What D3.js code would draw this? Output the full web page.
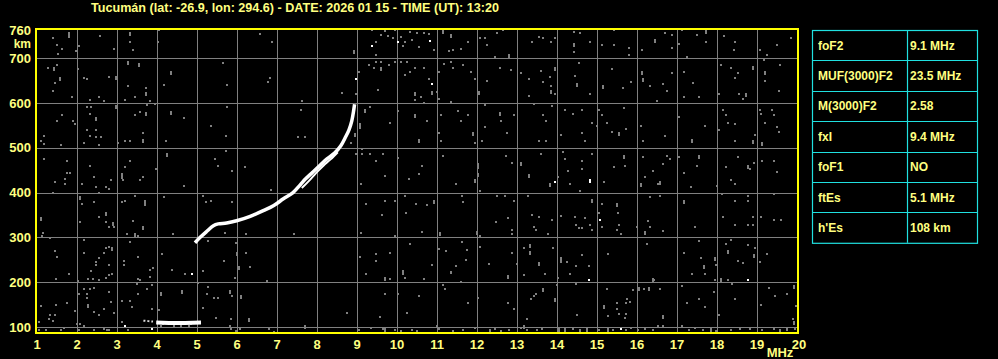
<!DOCTYPE html>
<html>
<head>
<meta charset="utf-8">
<script src="https://cdn.jsdelivr.net/npm/d3@7"></script>
<style>
  html, body { margin: 0; padding: 0; background: #000; }
  svg { display: block; }
</style>
</head>
<body>
<div id="chart"></div>
<script>
// ionogram: frequency (MHz) vs virtual height (km)
const title = "Tucumán (lat: -26.9, lon: 294.6) - DATE: 2026 01 15 - TIME (UT): 13:20";

const freqTicks = d3.range(1, 21);             // 1..20 MHz
const heightTicks = [100, 200, 300, 400, 500, 600, 700];

// scaled parameters table
const paramNames = ["foF2", "MUF(3000)F2", "M(3000)F2", "fxI", "foF1", "ftEs", "h'Es"];
const paramValues = ["9.1 MHz", "23.5 MHz", "2.58", "9.4 MHz", "NO", "5.1 MHz", "108 km"];

// O-mode F trace [MHz, km]
const traceF = [[4.95,288],[5.08,300],[5.24,313],[5.41,326],[5.53,330],[5.74,332],[5.99,337],
  [6.33,347],[6.67,360],[6.92,371],[7.16,386],[7.4,400],[7.59,418],[7.71,430],[7.89,445],
  [8.07,460],[8.25,475],[8.44,488],[8.6,505],[8.72,525],[8.8,540],[8.87,560],[8.92,585],[8.94,597]];
// split (second) echo along the upper F trace
const traceSplit = [[7.62,410],[7.8,426],[7.98,444],[8.16,460],[8.34,474],[8.52,490]];
// sporadic E trace
const traceEs = [[3.98,110],[4.3,109],[4.7,109],[5.1,110]];
const traceEsFaint = [[3.66,114],[3.78,113],[3.9,112]];

// background noise echoes [MHz, km, length km]
const noiseGray = [
  [1.81,755,13],[1.39,744],[1.51,730],[1.63,721],[1.53,709],[2.58,750],[2.06,727],[1.97,715],
  [3.33,755,9],[3.33,735],[3.39,718],[4.03,736],[4.06,762],[2.93,721],[6.58,753],[6.88,735],
  [8.92,715,9],[9.38,762],[9.47,736],[9.47,708],[9.59,751],[9.71,761],[9.77,750],[9.95,762],
  [9.89,744],[10.1,747],[10.14,727],[10.2,736],[10.32,759],[10.38,740],[10.5,757],[10.56,725],
  [10.68,757],[10.8,753],[10.93,718],[11.15,760,9],[11.35,751,9],[11.29,715],[11.41,718],
  [11.6,721],[11.78,735],[12.08,744],[12.2,744],[12.26,730],[12.5,757],[12.65,762],[12.81,706,9],
  [13.38,735],[13.54,747],[13.66,744],[13.84,735],[13.96,745],[14.43,759],[14.43,732,9],[14.43,714],
  [14.57,757],[14.82,735],[15.12,730],[15.42,762],[15.42,730],[15.79,723],[15.79,708],[16.13,718],
  [16.46,741,9],[16.7,757],[16.88,751],[16.88,723],[17.06,732],[17.12,762],[17.25,703],[17.49,751],
  [17.73,760,9],[17.73,735],[18.18,750],[18.46,736],[18.43,718],[19.07,718],[19.25,708],[19.49,730],
  [19.86,744],
  [1.27,678],[1.43,678,9],[1.51,684],[1.57,656,9],[1.45,645],[2.03,675],[2.18,656],[2.24,653],
  [3.27,692,9],[3.54,686,9],[2.97,658,9],[2.79,658],[3.27,638],[3.73,634],[4.18,640],[4.34,669,9],
  [5.64,688],[5.76,640],[6.82,656],[6.77,647],[9.04,669],[9.29,684],[9.43,677],[9.47,692],
  [9.59,678,9],[9.61,692],[9.81,684],[9.95,692],[10.1,692],[10.26,692],[10.32,669],[10.44,677],
  [10.2,662],[10.68,678],[10.8,654],[11.05,669],[11.17,686],[11.35,692],[11.41,678],[11.66,684],
  [11.84,669],[11.96,654],[12.26,648],[12.45,703],[12.57,678],[12.85,673],[13.11,666],[13.3,653],
  [13.6,671],[13.66,647],[13.82,658],[13.84,638],[13.96,677,9],[14.45,660],[14.55,688],[14.51,643,9],
  [15.16,638,9],[15.37,675],[15.64,634],[15.85,647],[16.13,669,9],[16.15,654,9],[16.33,638],
  [16.64,643],[16.88,666],[17.18,669],[17.39,645],[18.1,684],[18.34,677],[18.46,656],[18.52,666],
  [18.89,680,9],[19.17,695],[19.2,669,9],[19.2,648],[19.57,684],
  [1.39,626],[1.88,613],[2.32,607],[2.54,613],[2.67,604],[2.97,593,9],[3.21,607],[3.45,613],
  [3.73,622,9],[3.82,604],[3.76,596],[3.94,598],[2.24,591],[2.36,591],[2.32,576],[2.48,566,9],
  [1.63,572],[1.51,559],[1.91,559],[1.94,552],[2.24,540],[2.32,527],[2.48,540],[2.48,524],
  [2.18,511],[1.18,527],[1.11,514],[1.18,509],[1.6,505],[2.6,524],[2.54,505],[3.58,579],
  [3.45,572],[3.73,578,9],[3.64,533],[3.64,518,9],[3.33,514],[3.21,514],[3.03,511],[4.34,579,9],
  [4.67,566],[4.22,514],[5.34,549],[5.76,591],[5.73,527],[7.62,604],[7.59,585],[7.52,524],
  [7.71,524],[8.62,622],[8.98,619],[9.08,552,13],[9.2,585,9],[9.32,591],[8.96,531,9],[8.86,511],
  [9.13,497],[9.53,628],[9.83,555],[10.02,581],[10.44,622,9],[10.44,607],[10.44,574,9],[10.59,613],
  [10.68,600],[10.74,559],[10.56,518,9],[10.87,624,9],[10.99,624],[11.05,609],[11.11,572],
  [11.05,533],[11.11,514],[11.35,601],[11.53,581],[11.59,559],[11.78,574],[11.9,533,9],[11.96,511],
  [12.04,624,9],[12.2,596],[12.2,546],[12.12,514],[12.57,578,9],[12.6,559],[12.93,572],[12.75,533],
  [13.3,616],[13.42,598],[13.66,572],[13.72,559],[13.87,594],[13.84,626,9],[13.96,619],[13.54,514],
  [13.72,514],[14.09,529],[14.19,585],[14.39,576],[14.63,585],[14.82,619],[14.88,555],[15.0,548],
  [14.63,533],[14.69,514],[15.06,585],[15.12,572],[15.24,555],[15.37,536],[15.55,533,9],[15.67,589],
  [15.73,542],[16.09,549],[16.15,514],[16.49,604],[16.7,527],[16.76,626],[17.06,569],[17.18,613],
  [17.37,518,9],[17.55,613],[17.7,549],[18.04,621],[18.04,540],[18.16,585],[18.22,572],[18.28,555],
  [18.46,552],[18.46,514],[18.56,621],[18.73,619,9],[18.65,609],[18.89,514,9],[18.95,529],[19.07,585],
  [19.1,576],[19.2,555],[19.37,585],[19.43,574],[19.49,546],[19.55,626],[19.13,511,9],[19.55,536],
  [1.18,475],[1.75,471],[1.75,443],[1.82,443],[1.45,423],[1.69,430],[1.69,419],[2.32,460],
  [2.42,434],[2.12,419],[2.48,413],[2.73,412],[2.85,427],[2.81,408],[3.13,441,13],[3.21,456],
  [3.33,470],[3.15,427],[3.58,427],[3.64,434],[4.25,486,9],[3.98,453],[4.67,415],[5.46,475],
  [5.52,460],[5.73,492],[5.88,447],[6.19,456],[1.39,398],[2.08,389,9],[2.12,374],[2.42,378],
  [2.54,400],[3.13,378],[3.21,382],[3.45,393],[3.7,382,13],[4.18,391],[5.15,393],[5.22,378],
  [5.34,382],[5.88,378],[6.86,406],[8.98,485],[9.13,486],[9.32,486],[9.47,471],[9.65,486],
  [9.69,438],[9.1,419],[10.02,477],[10.3,430],[10.62,460],[10.56,441],[9.23,374],[9.69,382],
  [9.95,382],[10.2,393],[10.47,374],[10.74,373],[10.93,382,9],[11.15,482],[11.47,419],[11.63,393],
  [11.66,378],[12.02,464,13],[12.02,441,9],[11.96,427,9],[12.08,404],[12.5,393],[12.69,393],
  [12.72,482],[12.87,467],[13.09,467,9],[13.6,486],[13.3,440,9],[13.27,393],[12.93,382],
  [13.82,419,9],[14.02,434],[14.15,490],[14.21,475],[14.27,449],[14.33,419],[14.63,471],[14.63,453],
  [14.88,486],[14.88,383,9],[14.57,404],[15.12,374],[15.18,423],[15.42,456],[15.67,482,9],[15.7,460],
  [15.49,374,9],[16.09,419,9],[16.15,479],[16.21,434],[16.39,449],[16.52,419],[16.58,423,9],
  [16.64,464],[16.76,482],[16.82,475],[17.06,479],[17.18,443],[17.34,412],[17.55,482,9],[17.49,460],
  [16.58,393],[16.33,389],[17.18,380,9],[18.0,415],[18.22,456],[18.34,427],[18.46,419],[18.52,479],
  [18.77,460,9],[18.83,453],[18.92,467],[19.13,471],[19.43,471],[19.49,445],[18.12,397],[18.46,382],
  [18.77,393],[19.43,397],[18.77,382],
  [1.11,343,9],[1.15,309],[1.12,302],[1.33,298],[2.08,335],[2.18,294],[2.54,346],[2.73,354,9],
  [2.73,335],[2.79,324],[2.91,331,9],[2.93,322],[3.39,337],[3.45,307,9],[3.64,324,9],[3.52,302],
  [3.25,307],[4.39,307],[1.45,270],[1.51,257],[2.18,264],[2.73,277],[2.81,279],[2.88,277,9],
  [2.67,264],[2.54,255],[2.48,246],[2.48,238],[2.79,238],[3.18,247],[3.18,238],[3.33,289],
  [3.52,257],[3.82,227],[3.9,232],[2.36,225],[4.12,262],[4.37,227],[5.28,292],[5.16,225],
  [5.68,247],[5.7,309],[5.97,287],[6.0,264,9],[6.04,234,9],[6.22,307],[6.22,266],[6.33,234],
  [7.43,307],[9.11,309],[9.47,262],[9.08,257],[9.47,247],[9.62,350],[9.83,266],[9.96,304],
  [10.22,355],[10.14,225,9],[10.32,285],[10.62,311],[10.87,238],[11.07,309,9],[11.05,274],
  [11.23,270],[11.35,223],[11.47,237],[11.63,289],[11.75,272],[11.72,250],[11.99,311,9],[12.08,302],
  [12.08,279],[12.29,240],[12.48,335],[12.77,343],[12.87,316],[12.87,307],[12.87,266],[12.99,240],
  [13.17,276],[13.33,283,9],[13.33,268,9],[13.38,350],[13.42,324],[13.48,316],[13.54,346],
  [13.54,242,9],[13.78,307],[13.87,339],[13.9,276],[14.09,253,13],[14.09,348],[14.24,246],
  [14.45,346],[14.48,328],[14.55,320],[14.63,320],[14.69,343],[14.82,328],[14.88,316],[15.06,354],
  [15.12,324],[14.63,261],[14.48,235],[14.79,235],[15.28,262],[15.55,328],[15.52,354],[15.49,316],
  [15.61,307],[16.0,324],[16.21,313,9],[16.27,337],[16.33,322],[16.25,285],[16.64,314],[17.18,266],
  [17.46,324],[17.55,292],[17.61,253],[17.67,235,9],[17.98,238],[17.95,253,9],[18.16,346],
  [18.22,285],[18.28,270,9],[18.34,294],[18.46,328],[18.52,247],[18.65,242],[18.77,328],[18.77,283],
  [18.89,346],[18.89,328],[18.92,261,9],[18.95,276],[19.07,246],[19.1,346],[19.25,262],[19.43,339],
  [19.61,339],
  [1.47,206],[1.81,218],[2.03,203],[2.28,206],[2.4,206],[2.54,205],[2.73,210],[2.79,215],
  [2.88,218],[3.52,206],[3.58,205],[3.82,212],[3.88,193],[3.76,185],[3.49,195],[3.52,173],
  [3.33,158],[3.37,145],[3.13,158],[2.79,177],[2.85,156],[2.67,139],[2.93,132],[2.42,188],
  [2.32,185],[2.18,184],[2.24,173],[2.06,173],[2.28,150,9],[2.24,165],[2.42,133],[2.54,126],
  [1.47,148],[1.75,153],[1.94,136],[1.45,126],[1.33,126],[1.3,118],[1.39,113],[1.06,111],
  [1.11,147],[2.08,106],[1.23,94],[1.6,94],[2.42,94],[2.79,94],[4.1,175,9],[4.06,138],
  [3.88,141],[4.1,102],[4.63,180,9],[4.71,218],[5.03,199],[5.28,190],[5.24,173],[5.16,143],
  [5.43,165],[5.52,165],[5.48,121],[5.82,180,9],[5.88,169],[5.85,118],[5.95,210],[6.09,170,9],
  [6.07,96],[6.29,118,9],[6.74,203],[7.71,102,9],[8.74,131],[9.23,218],[9.71,210,9],[9.83,206],
  [9.69,173],[9.57,123],[10.02,173],[10.14,218],[10.2,210],[10.26,131],[10.56,168],[10.68,208],
  [11.15,193],[11.2,185],[11.35,220],[11.6,200],[11.78,153],[12.02,165],[12.77,214,9],[12.77,153],
  [12.93,139],[13.17,215],[13.24,117],[13.36,162],[13.42,168],[13.48,173],[13.66,184,9],[13.7,218],
  [13.94,162,9],[13.99,193],[14.03,210],[14.33,218],[14.48,195],[14.51,126],[15.18,147,9],
  [15.24,185],[15.28,124],[15.49,153],[15.49,139],[15.55,128],[15.73,153],[15.76,163],[15.82,156],
  [15.73,130],[15.7,121],[15.91,182],[16.06,188,9],[16.18,185],[16.3,188,9],[16.4,206,9],
  [16.43,205],[16.58,185],[16.64,124,9],[17.12,191],[17.25,153],[17.37,218],[17.55,163],
  [17.71,145],[17.71,218],[17.92,177],[17.96,205],[18.04,126],[18.1,206,9],[18.28,205],[18.37,195],
  [18.46,163],[19.1,148],[19.29,188],[19.46,168],[19.74,173],[19.92,191,9],[19.98,147],[19.89,117],
  [1.06,93],[1.67,98],[2.0,106],[2.06,93],[2.18,102],[2.67,96],[2.76,93],[3.13,111],[3.27,93],
  [4.15,106],[4.43,102],[4.61,102],[4.79,102],[4.85,106],[5.82,102],[5.85,95],[5.97,91],[6.8,95],
  [6.92,89],[7.71,98],[9.04,93],[9.35,98],[9.65,96],[9.71,95,9],[9.95,93],[10.1,91],[10.38,93],
  [10.5,91],[10.99,102],[11.05,95],[11.41,91],[11.66,93],[11.96,98],[12.33,93,9],[12.45,95],
  [12.6,91],[12.81,93],[13.11,98],[13.17,102,9],[13.26,93],[13.51,93],[13.63,96],[14.06,95,9],
  [14.21,96,9],[14.39,95],[14.57,93,9],[14.76,95,9],[15.06,93],[15.28,96,9],[15.4,93],[15.73,93],
  [15.85,98],[16.03,93],[16.21,95],[16.4,93],[16.52,103],[16.64,102],[17.12,102],[17.3,93],
  [17.46,98],[17.64,93],[17.86,96,9],[17.98,91],[18.34,93],[18.58,95],[18.83,96],[19.13,93],
  [19.43,95],[19.58,93,9],[19.74,98,9],[19.92,110,9],[19.95,95]
];
const noiseWhite = [
  [9.38,727],[10.02,736],[10.83,738],[8.98,653],[10.87,643],[13.96,423],[14.82,427,9],
  [15.08,339],[4.88,218],[14.79,205],[18.77,205],[3.21,102],[3.88,95],[15.61,96]
];

const W = 998, H = 359;
const TEXT = "#ffff80", FRAME = "#ffff00", GRID = "#808080", CYAN = "#20e0e0";
const FONT = "'Liberation Sans', Arial, sans-serif";

const svg = d3.select("#chart").append("svg")
  .attr("width", W).attr("height", H)
  .style("background", "#000");

const x = d3.scaleLinear().domain([1, 20]).range([37, 797]);
const y = d3.scaleLinear().domain([86.5, 765]).range([333, 29]);

// title
svg.append("text")
  .attr("x", 91).attr("y", 12)
  .attr("fill", TEXT)
  .attr("font-family", FONT).attr("font-weight", "bold").attr("font-size", 12)
  .attr("textLength", 408).attr("lengthAdjust", "spacingAndGlyphs")
  .text(title);

// grid
const grid = svg.append("g").attr("stroke", GRID).attr("stroke-width", 1);
grid.selectAll("line.v").data(freqTicks.slice(1, -1)).join("line")
  .attr("class", "v")
  .attr("x1", d => Math.round(x(d)) + 0.5).attr("x2", d => Math.round(x(d)) + 0.5)
  .attr("y1", y.range()[1]).attr("y2", y.range()[0]);
grid.selectAll("line.h").data(heightTicks).join("line")
  .attr("class", "h")
  .attr("y1", d => Math.round(y(d)) + 0.5).attr("y2", d => Math.round(y(d)) + 0.5)
  .attr("x1", 36).attr("x2", 798);

// noise echoes
const dotH = d => Math.max(2, Math.round((d[2] || 4) * 0.448));
svg.append("g").attr("fill", GRID)
  .selectAll("rect").data(noiseGray).join("rect")
  .attr("x", d => Math.round(x(d[0])) - 1)
  .attr("y", d => Math.round(y(d[1])) - 1)
  .attr("width", 2).attr("height", dotH);
svg.append("g").attr("fill", "#fff")
  .selectAll("rect").data(noiseWhite).join("rect")
  .attr("x", d => Math.round(x(d[0])) - 1)
  .attr("y", d => Math.round(y(d[1])) - 1)
  .attr("width", 2).attr("height", dotH);

// traces
const smooth = d3.line().x(d => x(d[0])).y(d => y(d[1])).curve(d3.curveCatmullRom);
const straight = d3.line().x(d => x(d[0])).y(d => y(d[1]));
svg.append("path").datum(traceF)
  .attr("d", smooth)
  .attr("fill", "none").attr("stroke", "#fff").attr("stroke-width", 3.5);
svg.append("path").datum(traceSplit)
  .attr("d", smooth)
  .attr("fill", "none").attr("stroke", "#fff").attr("stroke-width", 2);
svg.append("path").datum(traceEs)
  .attr("d", straight)
  .attr("fill", "none").attr("stroke", "#fff").attr("stroke-width", 4);
svg.append("path").datum(traceEsFaint)
  .attr("d", straight)
  .attr("fill", "none").attr("stroke", "#ddd").attr("stroke-width", 2)
  .attr("stroke-dasharray", "2,2");

// frame
svg.append("rect")
  .attr("x", 36).attr("y", 29).attr("width", 762).attr("height", 304)
  .attr("fill", "none").attr("stroke", FRAME).attr("stroke-width", 2);

// y labels
const yl = svg.append("g")
  .attr("fill", TEXT).attr("font-family", FONT).attr("font-weight", "bold")
  .attr("font-size", 13).attr("text-anchor", "end");
yl.selectAll("text").data(heightTicks.concat([760])).join("text")
  .attr("x", 31)
  .attr("y", d => d === 760 ? y.range()[1] + 1 : y(d))
  .attr("dy", "0.36em")
  .text(d => d);
yl.append("text").attr("x", 31).attr("y", 44).attr("dy", "0.36em")
  .attr("font-size", 12).text("km");

// x labels
const xl = svg.append("g")
  .attr("fill", TEXT).attr("font-family", FONT).attr("font-weight", "bold")
  .attr("font-size", 13).attr("text-anchor", "middle");
xl.selectAll("text").data(freqTicks).join("text")
  .attr("x", d => d === 20 ? x(d) + 2 : x(d))
  .attr("y", 344).attr("dy", "0.36em")
  .text(d => d);
xl.append("text").attr("x", 780).attr("y", 352).attr("dy", "0.36em").text("MHz");

// parameter table
const tx = 812, tw = 165, colX = 907, ty = 30, rh = 30.4;
const tbl = svg.append("g");
tbl.append("rect").attr("x", tx + 0.5).attr("y", ty + 0.5)
  .attr("width", tw).attr("height", rh * paramNames.length)
  .attr("fill", "none").attr("stroke", CYAN).attr("stroke-width", 1.2);
tbl.append("line").attr("x1", colX + 0.5).attr("x2", colX + 0.5)
  .attr("y1", ty).attr("y2", ty + rh * paramNames.length)
  .attr("stroke", CYAN).attr("stroke-width", 1.2);
tbl.selectAll("line.r").data(d3.range(1, paramNames.length)).join("line")
  .attr("class", "r")
  .attr("x1", tx).attr("x2", tx + tw)
  .attr("y1", i => Math.round(ty + i * rh) + 0.5).attr("y2", i => Math.round(ty + i * rh) + 0.5)
  .attr("stroke", CYAN).attr("stroke-width", 1.2);
const tt = tbl.append("g").attr("fill", TEXT).attr("font-family", FONT)
  .attr("font-weight", "bold").attr("font-size", 12);
tt.selectAll("text.n").data(paramNames).join("text")
  .attr("class", "n")
  .attr("x", tx + 6).attr("y", (d, i) => ty + i * rh + rh / 2).attr("dy", "0.36em")
  .text(d => d);
tt.selectAll("text.v").data(paramValues).join("text")
  .attr("class", "v")
  .attr("x", colX + 3).attr("y", (d, i) => ty + i * rh + rh / 2).attr("dy", "0.36em")
  .text(d => d);
</script>
</body>
</html>
